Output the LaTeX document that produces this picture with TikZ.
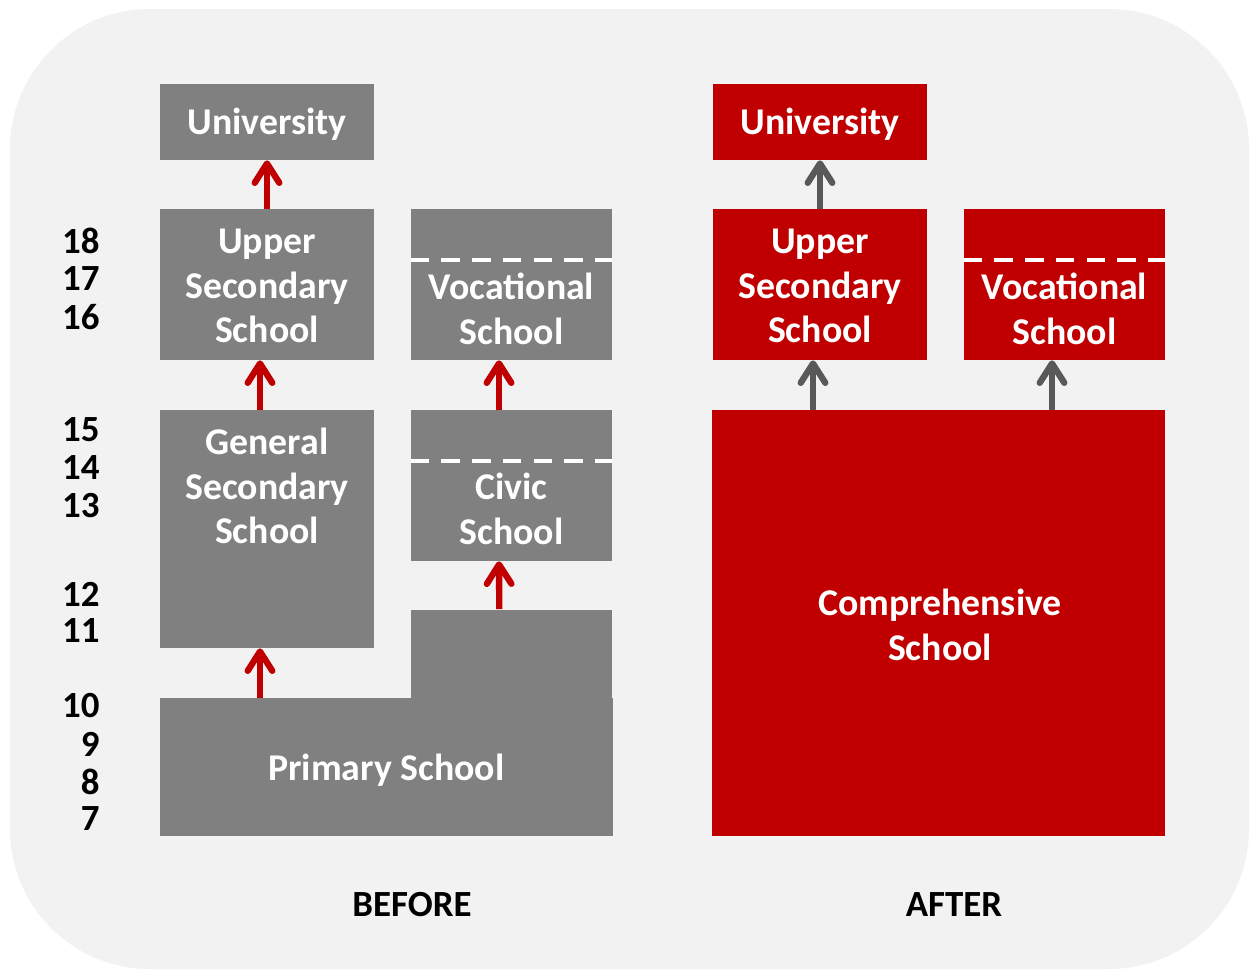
\documentclass[tikz,border=0pt]{standalone}
\usepackage{fontspec}
\setmainfont{Carlito}
\usetikzlibrary{arrows.meta}

\definecolor{panel}{HTML}{F2F2F2}
\definecolor{oldgray}{HTML}{808080}
\definecolor{newred}{HTML}{C00000}
\definecolor{arrowgray}{HTML}{595959}

\tikzset{
  box/.style={text=white, align=center, inner sep=0pt,
    font=\fontsize{21.5}{25.5}\selectfont\bfseries},
  oldbox/.style={box, fill=oldgray},
  newbox/.style={box, fill=newred},
  wide/.style={minimum width=4.28cm},
  narrow/.style={minimum width=4.02cm},
  tall/.style={minimum height=3.02cm},
  uparrow/.style={draw=#1, line width=3.6pt,
    -{Straight Barb[length=11pt,width=14pt,line cap=round,line join=round]}},
  divider/.style={white, line width=2pt, dash pattern=on 10.5pt off 7pt},
  age/.style={anchor=east, inner sep=0pt, font=\fontsize{21}{24}\selectfont\bfseries},
  caption/.style={font=\fontsize{21}{24}\selectfont\bfseries}
}

\begin{document}
\begin{tikzpicture}[x=0.02cm,y=-0.02cm]
  \useasboundingbox (0,0) rectangle (1250,971);
  \fill[panel, rounded corners=2.8cm] (10,9) rectangle (1249,969);

  % ages
  \foreach \n/\y in {18/241,17/279,16/317,15/430,14/468,13/506,12/594,11/631,10/706,9/744,8/782,7/819}
    \node[age] at (100,\y) {\n};

  % before
  \node[oldbox, wide, minimum height=1.52cm] (uniB) at (267,122) {};
  \node[box] (uniBtext) at (267,124) {University};
  \node[oldbox, wide, tall] (upperB) at (267,284.5) {};
  \node[box] (upperBtext) at (267,286) {Upper\\Secondary\\School};
  \node[oldbox, narrow, tall] (vocB) at (511.5,284.5) {};
  \node[box] (vocBtext) at (511.5,309) {Vocational\\School};
  \draw[divider] (vocB.west |- 0,260) -- (vocB.east |- 0,260);

  \node[oldbox, wide, minimum height=4.76cm] (genB) at (267,529) {};
  \node[box] (genBtext) at (267,486) {General\\Secondary\\School};
  \node[oldbox, narrow, tall] (civB) at (511.5,485.5) {};
  \node[box] (civBtext) at (511.5,509) {Civic\\School};
  \draw[divider] (civB.west |- 0,461) -- (civB.east |- 0,461);

  \node[oldbox, narrow, minimum height=1.8cm] (primUp) at (511.75,654.5) {};
  \node[oldbox, minimum width=9.06cm, minimum height=2.76cm] (primLow) at (386.5,767) {};
  \node[box] (primtext) at (386.5,770) {Primary School};

  \draw[uparrow=newred] (upperB.north) -- (uniB.south);
  \draw[uparrow=newred] ([xshift=-0.14cm]genB.north) -- ([xshift=-0.14cm]upperB.south);
  \draw[uparrow=newred] ([xshift=-0.25cm]civB.north) -- ([xshift=-0.25cm]vocB.south);
  \draw[uparrow=newred] (primLow.north -| genB.north) ++(-7,0) coordinate (gs) (gs) -- (gs |- genB.south);
  \draw[uparrow=newred] ([xshift=-0.25cm]primUp.north) -- ([xshift=-0.25cm]civB.south);

  % after
  \node[newbox, wide, minimum height=1.52cm] (uniA) at (820,122) {};
  \node[box] (uniAtext) at (820,124) {University};
  \node[newbox, wide, tall] (upperA) at (820,284.5) {};
  \node[box] (upperAtext) at (820,286) {Upper\\Secondary\\School};
  \node[newbox, narrow, tall] (vocA) at (1064.5,284.5) {};
  \node[box] (vocAtext) at (1064.5,309) {Vocational\\School};
  \draw[divider] (vocA.west |- 0,260) -- (vocA.east |- 0,260);
  \node[newbox, minimum width=9.06cm, minimum height=8.52cm] (comp) at (938.5,623) {};
  \node[box] (comptext) at (940,625) {Comprehensive\\School};

  \draw[uparrow=arrowgray] (upperA.north) -- (uniA.south);
  \draw[uparrow=arrowgray] ([xshift=-0.14cm]comp.north -| upperA.north) -- ([xshift=-0.14cm]upperA.south);
  \draw[uparrow=arrowgray] ([xshift=-0.25cm]comp.north -| vocA.north) -- ([xshift=-0.25cm]vocA.south);

  \node[caption] (before) at (412,905) {BEFORE};
  \node[caption] (after) at (954,905) {AFTER};
\end{tikzpicture}
\end{document}
